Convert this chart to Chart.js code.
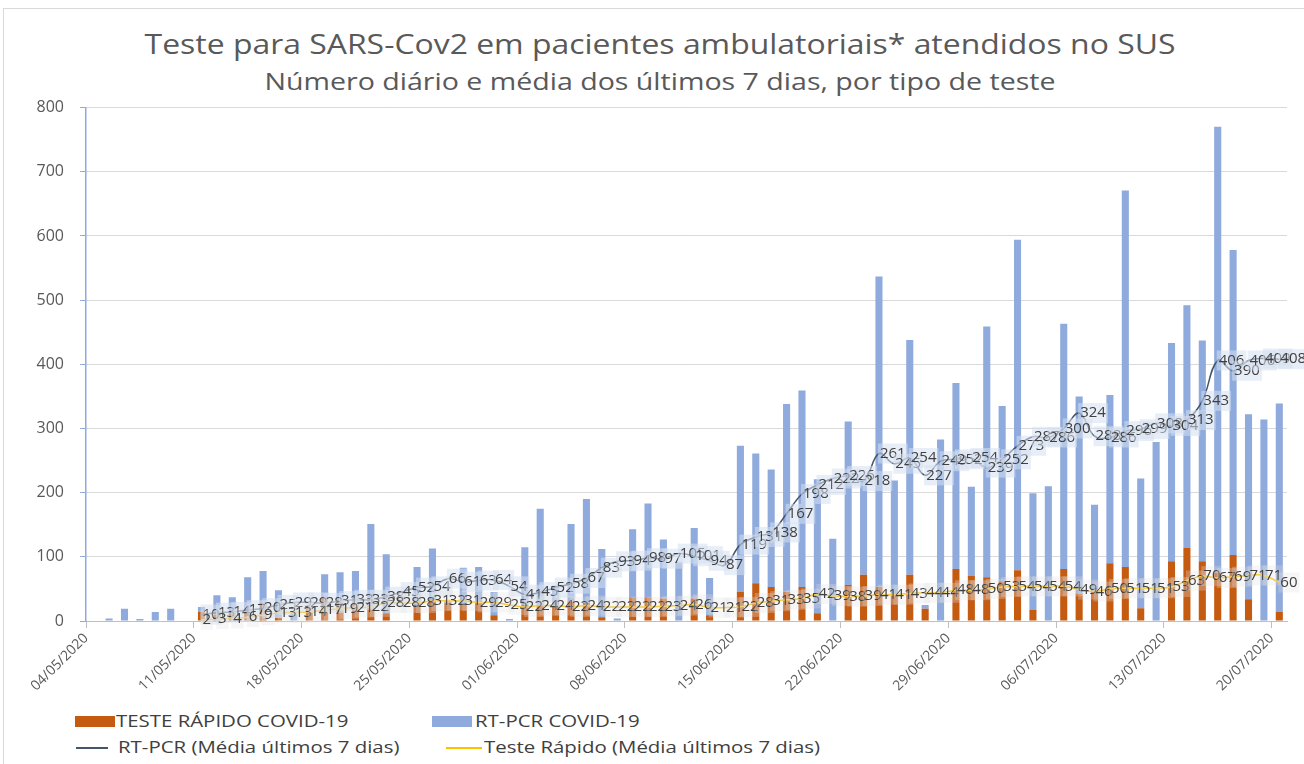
<!DOCTYPE html>
<html>
<head>
<meta charset="utf-8">
<script src="https://cdn.jsdelivr.net/npm/chart.js@4.4.0/dist/chart.umd.min.js"></script>
<style>
  body { margin: 0; background: #fff; width: 1304px; height: 764px; overflow: hidden; position: relative; font-family: "Open Sans", sans-serif; }
  #frame { position: absolute; left: 3px; top: 8px; width: 1320px; height: 800px; border: 1px solid #d9d9d9; }
  #title { position: absolute; top: 24px; left: 660px; transform: translateX(-50%) scaleX(1.14); font-size: 28px; color: #595959; white-space: nowrap; }
  #subtitle { position: absolute; top: 64px; left: 660px; transform: translateX(-50%) scaleX(1.19); font-size: 24px; color: #595959; white-space: nowrap; }
  #chartBox { position: absolute; left: 0; top: 82px; width: 1304px; height: 623px; }
  .lg { position: absolute; font-size: 17px; color: #404040; white-space: nowrap; line-height: 20px; transform: scaleX(1.2); transform-origin: left center; }
  .box { position: absolute; width: 40px; height: 11px; }
  .ln { position: absolute; height: 2px; }
</style>
</head>
<body>
<div id="frame"></div>
<div id="title">Teste para SARS-Cov2 em pacientes ambulatoriais* atendidos no SUS</div>
<div id="subtitle">Número diário e média dos últimos 7 dias, por tipo de teste</div>
<div id="chartBox"><canvas id="chart"></canvas></div>

<div class="box" style="left:75px;top:716px;background:#c55a11"></div>
<div class="lg" style="left:116px;top:711px">TESTE RÁPIDO COVID-19</div>
<div class="box" style="left:432px;top:716px;background:#8faadc"></div>
<div class="lg" style="left:475px;top:711px">RT-PCR COVID-19</div>
<div class="ln" style="left:76px;top:747px;width:32px;background:#44546a"></div>
<div class="lg" style="left:118px;top:737px">RT-PCR (Média últimos 7 dias)</div>
<div class="ln" style="left:446px;top:747px;width:36px;background:#ffc000"></div>
<div class="lg" style="left:484px;top:737px">Teste Rápido (Média últimos 7 dias)</div>

<script>
// dias (04/05 a 20/07/2020)
const dates = [
  '04/05/2020','05/05/2020','06/05/2020','07/05/2020','08/05/2020','09/05/2020','10/05/2020',
  '11/05/2020','12/05/2020','13/05/2020','14/05/2020','15/05/2020','16/05/2020','17/05/2020',
  '18/05/2020','19/05/2020','20/05/2020','21/05/2020','22/05/2020','23/05/2020','24/05/2020',
  '25/05/2020','26/05/2020','27/05/2020','28/05/2020','29/05/2020','30/05/2020','31/05/2020',
  '01/06/2020','02/06/2020','03/06/2020','04/06/2020','05/06/2020','06/06/2020','07/06/2020',
  '08/06/2020','09/06/2020','10/06/2020','11/06/2020','12/06/2020','13/06/2020','14/06/2020',
  '15/06/2020','16/06/2020','17/06/2020','18/06/2020','19/06/2020','20/06/2020','21/06/2020',
  '22/06/2020','23/06/2020','24/06/2020','25/06/2020','26/06/2020','27/06/2020','28/06/2020',
  '29/06/2020','30/06/2020','01/07/2020','02/07/2020','03/07/2020','04/07/2020','05/07/2020',
  '06/07/2020','07/07/2020','08/07/2020','09/07/2020','10/07/2020','11/07/2020','12/07/2020',
  '13/07/2020','14/07/2020','15/07/2020','16/07/2020','17/07/2020','18/07/2020','19/07/2020',
  '20/07/2020'
];

// numero diario
const rapido = [
  0,0,0,0,0,0,0,
  14,10,12,14,28,5,0,
  22,37,29,28,25,12,0,
  25,31,29,28,30,9,0,
  25,25,22,30,28,6,0,
  37,37,35,0,35,9,0,
  45,59,53,45,53,12,0,
  56,72,53,40,72,19,0,
  81,70,68,62,79,17,0,
  81,43,47,90,84,20,0,
  93,114,93,75,103,34,0,
  14
];
const rtpcr = [
  0,4,19,3,14,19,0,
  8,30,25,54,50,43,15,
  3,36,47,50,126,92,0,
  59,82,2,55,54,36,3,
  90,150,33,121,162,106,4,
  106,146,92,92,110,58,0,
  228,202,183,293,306,209,128,
  255,148,484,179,366,6,283,
  290,139,391,273,515,182,210,
  382,307,134,262,587,202,279,
  340,378,344,695,475,288,314,
  325
];

// media dos ultimos 7 dias
const rtpcrMedia = [
  null,null,null,null,null,null,null,
  10,13,14,17,20,25,29,
  29,28,31,33,33,38,45,
  52,54,66,61,63,64,54,
  41,45,52,58,67,83,93,
  94,98,97,105,101,94,87,
  119,131,138,167,198,212,222,
  226,218,261,245,254,227,249,
  252,254,239,252,273,287,286,
  300,324,288,286,296,299,308,
  304,313,343,406,390,406,409,
  408
];
const rapidoMedia = [
  null,null,null,null,null,null,null,
  2,3,4,6,9,13,13,
  14,17,19,21,22,28,28,
  28,31,32,31,29,29,25,
  22,24,24,22,24,22,22,
  22,22,23,24,26,21,21,
  22,28,31,33,35,42,39,
  38,39,41,41,43,44,44,
  48,48,50,53,54,54,54,
  54,49,46,50,51,51,51,
  53,63,70,67,69,71,71,
  60
];

// rotulos de dados nas linhas de media
const lineLabels = {
  id: 'lineLabels',
  afterDatasetsDraw(chart) {
    const ctx = chart.ctx;
    ctx.save();
    ctx.font = '15px "Open Sans"';
    ctx.textBaseline = 'middle';
    [2, 3].forEach(di => {
      const meta = chart.getDatasetMeta(di);
      const vals = chart.data.datasets[di].data;
      meta.data.forEach((pt, i) => {
        if (vals[i] == null) return;
        const txt = String(vals[i]);
        const w = ctx.measureText(txt).width;
        const x = pt.x + 1, y = pt.y;
        ctx.fillStyle = di === 2 ? 'rgba(214,224,240,0.55)' : 'rgba(225,225,225,0.3)';
        ctx.fillRect(x - 2, y - 10, w + 4, 20);
        ctx.fillStyle = '#404040';
        ctx.fillText(txt, x, y);
      });
    });
    ctx.restore();
  }
};

const ctx = document.getElementById('chart').getContext('2d');
new Chart(ctx, {
  data: {
    labels: dates,
    datasets: [
      { type: 'bar', label: 'TESTE RÁPIDO COVID-19', data: rapido, backgroundColor: '#c55a11',
        stack: 'b', order: 2, barPercentage: 0.46, categoryPercentage: 1 },
      { type: 'bar', label: 'RT-PCR COVID-19', data: rtpcr, backgroundColor: '#8faadc',
        stack: 'b', order: 3, barPercentage: 0.46, categoryPercentage: 1 },
      { type: 'line', label: 'RT-PCR (Média últimos 7 dias)', data: rtpcrMedia, borderColor: '#44546a',
        borderWidth: 1.5, pointRadius: 0, tension: 0.4, stack: 'l1', order: 1 },
      { type: 'line', label: 'Teste Rápido (Média últimos 7 dias)', data: rapidoMedia, borderColor: '#ffc000',
        borderWidth: 1.5, pointRadius: 0, tension: 0.4, stack: 'l2', order: 0 }
    ]
  },
  options: {
    responsive: true,
    maintainAspectRatio: false,
    animation: false,
    layout: { padding: { top: 0, right: 17, left: 0, bottom: 0 } },
    plugins: {
      legend: { display: false },
      tooltip: { enabled: false }
    },
    scales: {
      x: {
        stacked: true,
        offset: true,
        grid: {
          offset: true,
          drawOnChartArea: false,
          tickLength: 7,
          color: c => (c.index % 7 === 0 ? '#bfbfbf' : 'rgba(0,0,0,0)')
        },
        border: { color: '#bfbfbf' },
        ticks: {
          autoSkip: false,
          minRotation: 45,
          maxRotation: 45,
          labelOffset: -7.7,
          padding: 2,
          color: '#595959',
          font: { size: 14, family: 'Open Sans' },
          callback: (v, i) => (i % 7 === 0 ? dates[i] : '')
        },
        afterFit: s => { s.height = 84; }
      },
      y: {
        stacked: true,
        min: 0,
        max: 800,
        ticks: { stepSize: 100, color: '#595959', padding: 16, font: { size: 16, family: 'Open Sans' } },
        grid: { color: '#d9d9d9', tickColor: '#8faadc', tickLength: 6 },
        border: { color: '#8faadc', width: 1.5 },
        afterFit: s => { s.width = 86; }
      }
    }
  },
  plugins: [lineLabels]
});
</script>
</body>
</html>
